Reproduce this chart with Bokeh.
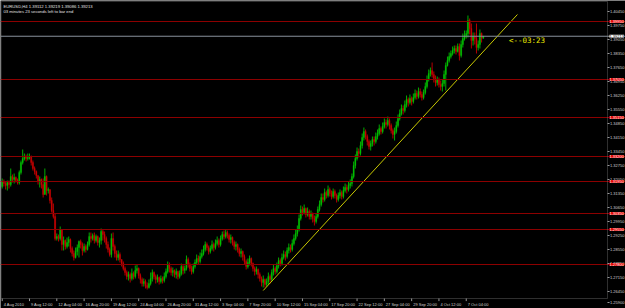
from bokeh.plotting import figure
from bokeh.models import Range1d, ColumnDataSource, LabelSet, BoxAnnotation, Span
from bokeh.core.properties import value
from bokeh.embed import file_html
from bokeh.resources import INLINE

# ---------------- data (EURUSD H4) ----------------
info_line1 = "EURUSD,H4  1.39112 1.39219 1.39086 1.39213"
info_line2 = "03 minutes 23 seconds left to bar end"
timer_text = "<--03:23"

first_open = 1.3170
close = [
1.3195, 1.3185, 1.3175, 1.3190, 1.3180, 1.3220, 1.3205, 1.3215, 1.3200, 1.3190,
1.3240, 1.3290, 1.3310, 1.3320, 1.3310, 1.3315, 1.3320, 1.3290, 1.3260, 1.3245,
1.3225, 1.3195, 1.3205, 1.3180, 1.3130, 1.3220, 1.3150, 1.3155, 1.3100, 1.3050,
1.3020, 1.2910, 1.2920, 1.2910, 1.2955, 1.2880, 1.2900, 1.2870, 1.2890, 1.2905,
1.2860, 1.2835, 1.2815, 1.2845, 1.2865, 1.2895, 1.2880, 1.2850, 1.2870, 1.2855,
1.2880, 1.2920, 1.2910, 1.2925, 1.2900, 1.2920, 1.2890, 1.2900, 1.2945, 1.2930,
1.2910, 1.2880, 1.2855, 1.2830, 1.2910, 1.2870, 1.2835, 1.2815, 1.2830, 1.2805,
1.2785, 1.2760, 1.2740, 1.2720, 1.2730, 1.2710, 1.2735, 1.2720, 1.2750, 1.2760,
1.2725, 1.2705, 1.2685, 1.2695, 1.2675, 1.2665, 1.2685, 1.2710, 1.2740, 1.2720,
1.2705, 1.2715, 1.2695, 1.2710, 1.2700, 1.2720, 1.2745, 1.2780, 1.2760, 1.2740,
1.2750, 1.2730, 1.2745, 1.2720, 1.2735, 1.2770, 1.2750, 1.2760, 1.2805, 1.2780,
1.2760, 1.2745, 1.2770, 1.2790, 1.2810, 1.2795, 1.2820, 1.2835, 1.2855, 1.2880,
1.2865, 1.2845, 1.2860, 1.2880, 1.2865, 1.2885, 1.2900, 1.2880, 1.2910, 1.2930,
1.2920, 1.2940, 1.2925, 1.2905, 1.2915, 1.2890, 1.2870, 1.2880, 1.2855, 1.2835,
1.2845, 1.2820, 1.2795, 1.2770, 1.2790, 1.2810, 1.2785, 1.2760, 1.2745, 1.2755,
1.2730, 1.2710, 1.2690, 1.2705, 1.2680, 1.2695, 1.2720, 1.2705, 1.2740, 1.2760,
1.2745, 1.2775, 1.2800, 1.2785, 1.2815, 1.2830, 1.2820, 1.2850, 1.2865, 1.2855,
1.2885, 1.2910, 1.2935, 1.2955, 1.3010, 1.3055, 1.3040, 1.3060, 1.3030, 1.3045,
1.3020, 1.3035, 1.3010, 1.2995, 1.3020, 1.3055, 1.3080, 1.3115, 1.3105, 1.3140,
1.3125, 1.3155, 1.3135, 1.3120, 1.3145, 1.3125, 1.3105, 1.3125, 1.3140, 1.3120,
1.3150, 1.3165, 1.3155, 1.3175, 1.3185, 1.3220, 1.3275, 1.3310, 1.3345, 1.3335,
1.3375, 1.3415, 1.3445, 1.3420, 1.3395, 1.3370, 1.3385, 1.3405, 1.3395, 1.3420,
1.3435, 1.3460, 1.3445, 1.3470, 1.3490, 1.3480, 1.3500, 1.3475, 1.3450, 1.3430,
1.3445, 1.3475, 1.3510, 1.3535, 1.3560, 1.3550, 1.3580, 1.3605, 1.3590, 1.3610,
1.3595, 1.3615, 1.3635, 1.3620, 1.3645, 1.3630, 1.3615, 1.3640, 1.3670, 1.3705,
1.3735, 1.3750, 1.3730, 1.3710, 1.3690, 1.3705, 1.3680, 1.3670, 1.3685, 1.3730,
1.3775, 1.3800, 1.3820, 1.3835, 1.3850, 1.3860, 1.3845, 1.3870, 1.3825, 1.3880,
1.3910, 1.3925, 1.3935, 1.4000, 1.3960, 1.3900, 1.3920, 1.3910, 1.3865, 1.3880,
1.3935, 1.39112, 1.39213,
]
high = [
1.3210, 1.3205, 1.3195, 1.3200, 1.3200, 1.3260, 1.3230, 1.3235, 1.3220, 1.3210,
1.3250, 1.3300, 1.3355, 1.3335, 1.3330, 1.3335, 1.3335, 1.3325, 1.3300, 1.3270,
1.3250, 1.3220, 1.3220, 1.3210, 1.3210, 1.3260, 1.3225, 1.3165, 1.3155, 1.3115,
1.3085, 1.3035, 1.2935, 1.2930, 1.2970, 1.2940, 1.2920, 1.2905, 1.2915, 1.2920,
1.2910, 1.2870, 1.2850, 1.2865, 1.2880, 1.2900, 1.2905, 1.2890, 1.2885, 1.2880,
1.2895, 1.2940, 1.2940, 1.2935, 1.2940, 1.2930, 1.2925, 1.2915, 1.2960, 1.2955,
1.2945, 1.2920, 1.2895, 1.2865, 1.2935, 1.2940, 1.2880, 1.2850, 1.2850, 1.2840,
1.2805, 1.2795, 1.2770, 1.2750, 1.2745, 1.2740, 1.2760, 1.2745, 1.2775, 1.2780,
1.2765, 1.2735, 1.2715, 1.2710, 1.2705, 1.2690, 1.2705, 1.2740, 1.2755, 1.2745,
1.2730, 1.2730, 1.2720, 1.2725, 1.2720, 1.2740, 1.2760, 1.2795, 1.2790, 1.2770,
1.2765, 1.2755, 1.2760, 1.2750, 1.2750, 1.2785, 1.2780, 1.2775, 1.2825, 1.2815,
1.2790, 1.2775, 1.2785, 1.2805, 1.2830, 1.2825, 1.2840, 1.2855, 1.2875, 1.2895,
1.2890, 1.2875, 1.2875, 1.2900, 1.2890, 1.2905, 1.2920, 1.2910, 1.2925, 1.2945,
1.2950, 1.2955, 1.2950, 1.2935, 1.2930, 1.2920, 1.2900, 1.2895, 1.2885, 1.2865,
1.2860, 1.2850, 1.2830, 1.2805, 1.2810, 1.2825, 1.2815, 1.2790, 1.2770, 1.2770,
1.2760, 1.2740, 1.2720, 1.2725, 1.2710, 1.2710, 1.2740, 1.2730, 1.2755, 1.2780,
1.2770, 1.2790, 1.2815, 1.2810, 1.2835, 1.2850, 1.2845, 1.2865, 1.2885, 1.2880,
1.2905, 1.2930, 1.2955, 1.2975, 1.3030, 1.3075, 1.3070, 1.3080, 1.3065, 1.3065,
1.3055, 1.3050, 1.3040, 1.3025, 1.3035, 1.3070, 1.3100, 1.3135, 1.3135, 1.3160,
1.3150, 1.3175, 1.3165, 1.3150, 1.3160, 1.3155, 1.3135, 1.3140, 1.3155, 1.3150,
1.3170, 1.3185, 1.3180, 1.3195, 1.3205, 1.3235, 1.3295, 1.3330, 1.3365, 1.3360,
1.3395, 1.3435, 1.3465, 1.3455, 1.3430, 1.3405, 1.3400, 1.3420, 1.3420, 1.3440,
1.3455, 1.3480, 1.3470, 1.3490, 1.3510, 1.3505, 1.3520, 1.3510, 1.3485, 1.3460,
1.3465, 1.3495, 1.3530, 1.3555, 1.3580, 1.3575, 1.3600, 1.3625, 1.3615, 1.3630,
1.3620, 1.3635, 1.3655, 1.3650, 1.3665, 1.3660, 1.3645, 1.3655, 1.3690, 1.3725,
1.3755, 1.3765, 1.3790, 1.3745, 1.3725, 1.3720, 1.3715, 1.3700, 1.3705, 1.3750,
1.3790, 1.3820, 1.3840, 1.3850, 1.3870, 1.3875, 1.3875, 1.3885, 1.3885, 1.3900,
1.3935, 1.3950, 1.3950, 1.4025, 1.4010, 1.3985, 1.3940, 1.3940, 1.3985, 1.3900,
1.3955, 1.3940, 1.39219,
]
low = [
1.3160, 1.3170, 1.3155, 1.3150, 1.3160, 1.3170, 1.3190, 1.3185, 1.3190, 1.3180,
1.3180, 1.3230, 1.3280, 1.3300, 1.3295, 1.3300, 1.3305, 1.3275, 1.3250, 1.3230,
1.3210, 1.3180, 1.3165, 1.3160, 1.3115, 1.3135, 1.3125, 1.3135, 1.3085, 1.3040,
1.3010, 1.2900, 1.2900, 1.2895, 1.2900, 1.2850, 1.2850, 1.2855, 1.2860, 1.2870,
1.2840, 1.2820, 1.2800, 1.2810, 1.2825, 1.2815, 1.2860, 1.2825, 1.2840, 1.2840,
1.2850, 1.2870, 1.2890, 1.2900, 1.2885, 1.2890, 1.2875, 1.2865, 1.2880, 1.2900,
1.2890, 1.2860, 1.2840, 1.2820, 1.2815, 1.2850, 1.2815, 1.2800, 1.2800, 1.2790,
1.2770, 1.2750, 1.2725, 1.2705, 1.2700, 1.2690, 1.2700, 1.2705, 1.2710, 1.2735,
1.2710, 1.2685, 1.2670, 1.2670, 1.2660, 1.2655, 1.2660, 1.2675, 1.2695, 1.2705,
1.2685, 1.2690, 1.2680, 1.2685, 1.2685, 1.2690, 1.2710, 1.2735, 1.2740, 1.2725,
1.2720, 1.2715, 1.2710, 1.2705, 1.2710, 1.2725, 1.2730, 1.2735, 1.2750, 1.2765,
1.2745, 1.2730, 1.2735, 1.2760, 1.2780, 1.2780, 1.2785, 1.2810, 1.2825, 1.2845,
1.2850, 1.2830, 1.2835, 1.2850, 1.2845, 1.2855, 1.2875, 1.2865, 1.2870, 1.2900,
1.2905, 1.2910, 1.2910, 1.2890, 1.2885, 1.2875, 1.2855, 1.2850, 1.2840, 1.2820,
1.2815, 1.2800, 1.2780, 1.2755, 1.2760, 1.2775, 1.2770, 1.2745, 1.2725, 1.2730,
1.2710, 1.2695, 1.2670, 1.2665, 1.2665, 1.2670, 1.2680, 1.2685, 1.2695, 1.2725,
1.2730, 1.2735, 1.2760, 1.2770, 1.2775, 1.2805, 1.2800, 1.2810, 1.2835, 1.2840,
1.2845, 1.2875, 1.2900, 1.2920, 1.2945, 1.3000, 1.3025, 1.3030, 1.3015, 1.3020,
1.3005, 1.3005, 1.2990, 1.2975, 1.2985, 1.3010, 1.3045, 1.3070, 1.3090, 1.3095,
1.3110, 1.3115, 1.3120, 1.3105, 1.3110, 1.3110, 1.3090, 1.3095, 1.3110, 1.3105,
1.3110, 1.3140, 1.3135, 1.3145, 1.3160, 1.3170, 1.3210, 1.3260, 1.3300, 1.3315,
1.3325, 1.3360, 1.3400, 1.3405, 1.3375, 1.3355, 1.3350, 1.3370, 1.3375, 1.3385,
1.3405, 1.3425, 1.3430, 1.3435, 1.3460, 1.3460, 1.3470, 1.3455, 1.3435, 1.3410,
1.3400, 1.3435, 1.3465, 1.3500, 1.3525, 1.3530, 1.3540, 1.3565, 1.3570, 1.3580,
1.3575, 1.3585, 1.3605, 1.3605, 1.3610, 1.3615, 1.3600, 1.3605, 1.3630, 1.3660,
1.3695, 1.3720, 1.3715, 1.3690, 1.3670, 1.3675, 1.3665, 1.3650, 1.3645, 1.3670,
1.3650, 1.3770, 1.3790, 1.3810, 1.3825, 1.3835, 1.3830, 1.3840, 1.3800, 1.3815,
1.3865, 1.3900, 1.3910, 1.3915, 1.3930, 1.3860, 1.3875, 1.3880, 1.3835, 1.3850,
1.3860, 1.3890, 1.39086,
]

time_tick_bars = [0, 16, 32, 48, 64, 80, 96, 112, 128, 144, 160, 176, 192, 208, 224, 240, 256, 272]
time_tick_labels = ["4 Aug 2010", "9 Aug 12:00", "12 Aug 04:00", "16 Aug 20:00", "19 Aug 12:00",
                    "24 Aug 04:00", "26 Aug 20:00", "31 Aug 12:00", "3 Sep 04:00", "7 Sep 20:00",
                    "10 Sep 12:00", "15 Sep 04:00", "17 Sep 20:00", "22 Sep 12:00", "27 Sep 04:00",
                    "29 Sep 20:00", "4 Oct 12:00", "7 Oct 04:00"]
price_ticks = [1.4045, 1.3975, 1.3905, 1.3835, 1.3765, 1.3695, 1.3625, 1.3555, 1.3485, 1.3415,
               1.3345, 1.3275, 1.3205, 1.3135, 1.3065, 1.2995, 1.2925, 1.2855, 1.2785, 1.2715,
               1.2645, 1.2590]
level_prices = [1.3995, 1.3705, 1.3515, 1.3320, 1.3195, 1.3035, 1.2955, 1.2780]
trend_bars = [153, 302]
trend_prices = [1.2650, 1.4030]
timer_bar, timer_price = 297, 1.3898

assert len(close) == len(high) == len(low)

# ---------------- layout constants ----------------
X_START, X_END = -1.0, 365.35
AXIS_X = 354.8
Y_BOTTOM, Y_TOP = 1.256, 1.41
AXIS_Y = 1.261
UP, DOWN = "#00c000", "#c80000"
FONT = value("Liberation Sans")
AXIS_FS = "4px"

n = len(close)
idx = list(range(n))
opens = [first_open] + close[:-1]
hi = [max(h, o, c) for h, o, c in zip(high, opens, close)]
lo = [min(l, o, c) for l, o, c in zip(low, opens, close)]
colors = [UP if c >= o else DOWN for o, c in zip(opens, close)]
src = ColumnDataSource(dict(x=idx, o=opens, c=close, h=hi, l=lo,
                            top=[max(a, b) for a, b in zip(opens, close)],
                            bot=[min(a, b) for a, b in zip(opens, close)],
                            col=colors))

p = figure(width=625, height=308, output_backend="svg", toolbar_location=None,
           x_range=Range1d(X_START, X_END), y_range=Range1d(Y_BOTTOM, Y_TOP),
           x_axis_location=None, y_axis_location=None, min_border=0)
p.background_fill_color = "black"
p.border_fill_color = "black"
p.outline_line_color = None
p.grid.visible = False

# horizontal levels
for lv in level_prices:
    p.add_layout(Span(location=lv, dimension="width", line_color="#8c0000", line_width=1))
p.add_layout(Span(location=close[-1], dimension="width", line_color="#8a929c", line_width=1))

# frame border
p.add_layout(BoxAnnotation(left=X_START + 0.4, right=AXIS_X, bottom=AXIS_Y, top=Y_TOP - 0.0005,
                           fill_alpha=0, line_color="#9a9a9a", line_width=1, level="overlay"))

# candles
p.segment(x0="x", y0="h", x1="x", y1="l", source=src, line_color="col", line_width=0.9)
p.vbar(x="x", top="top", bottom="bot", width=0.7, source=src, fill_color="col", line_color="col",
       line_width=0.3)

# trend line
p.line(trend_bars, trend_prices, line_color="#c8c800", line_width=1)

# timer text
p.text(x=[timer_bar], y=[timer_price], text=[timer_text], text_color="#e8e800",
       text_font=value("DejaVu Sans Mono"), text_font_size="7.5px", text_baseline="middle",
       text_align="left")

# info text
p.text(x=[X_START, X_START], y=[Y_TOP, Y_TOP], text=[info_line1, info_line2],
       x_offset=[3, 3], y_offset=[3, 8], text_color="#e0e0e0", text_font=FONT,
       text_font_size="4.2px", text_baseline="top", text_align="left")

# time axis ticks and labels
p.segment(x0=time_tick_bars, y0=[AXIS_Y] * len(time_tick_bars), x1=time_tick_bars,
          y1=[AXIS_Y - 0.0013] * len(time_tick_bars), line_color="#9a9a9a", line_width=1)
p.text(x=time_tick_bars, y=[AXIS_Y] * len(time_tick_bars), text=time_tick_labels,
       x_offset=1.5, y_offset=3, text_color="#d0d0d0", text_font=FONT, text_font_size=AXIS_FS,
       text_baseline="top", text_align="left")

# price axis ticks and labels
p.segment(x0=[AXIS_X] * len(price_ticks), y0=price_ticks, x1=[AXIS_X + 1.2] * len(price_ticks),
          y1=price_ticks, line_color="#9a9a9a", line_width=1)
p.text(x=[AXIS_X] * len(price_ticks), y=price_ticks, text=["%.5f" % v for v in price_ticks],
       x_offset=2.5, text_color="#d0d0d0", text_font=FONT, text_font_size=AXIS_FS,
       text_baseline="middle", text_align="left")

lvl_src = ColumnDataSource(dict(x=[AXIS_X] * len(level_prices), y=level_prices,
                                t=["%.5f" % v for v in level_prices]))
p.add_layout(LabelSet(x="x", y="y", text="t", source=lvl_src, x_offset=2,
                      text_baseline="middle", text_font=FONT, text_font_size=AXIS_FS,
                      text_color="white", background_fill_color="#e00000"))
cur_src = ColumnDataSource(dict(x=[AXIS_X], y=[close[-1]], t=["%.5f" % close[-1]]))
p.add_layout(LabelSet(x="x", y="y", text="t", source=cur_src, x_offset=2,
                      text_baseline="middle", text_font=FONT, text_font_size=AXIS_FS,
                      text_color="black", background_fill_color="white"))

open("out.html", "w").write(file_html(p, INLINE))
